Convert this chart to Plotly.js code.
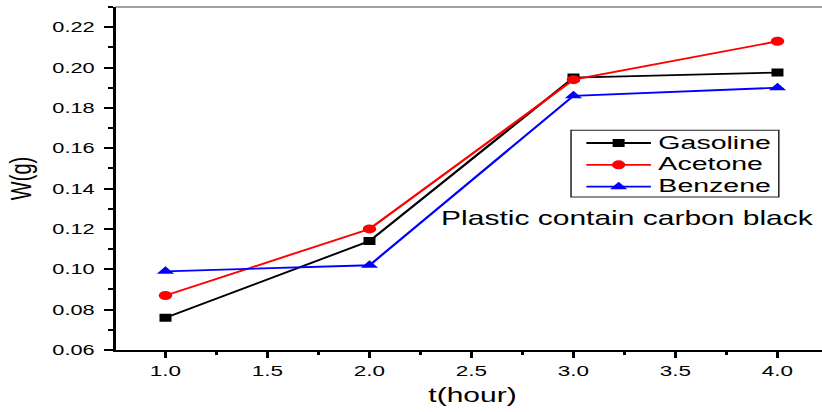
<!DOCTYPE html>
<html>
<head>
<meta charset="utf-8">
<script src="https://cdn.plot.ly/plotly-3.0.1.min.js"></script>
<style>
html,body{margin:0;padding:0;overflow:hidden;background:#fff;}
#wrap{width:822px;height:412px;overflow:hidden;position:relative;}
#chart{width:553px;height:412px;transform:scaleX(1.5);transform-origin:0 0;}
#chart .legendtext{font-size:19px !important;}
#chart .legend .scrollbox{clip-path:none !important;}
#chart .legend g{clip-path:none !important;}
</style>
</head>
<body>
<div id="wrap"><div id="chart"></div></div>
<script>
var hours = [1, 2, 3, 4];
var gasoline = [0.076, 0.114, 0.195, 0.1975];
var acetone = [0.087, 0.120, 0.194, 0.213];
var benzene = [0.099, 0.102, 0.186, 0.190];
var seriesNames = ['Gasoline', 'Acetone', 'Benzene'];
var xTicks = [1.0, 1.5, 2.0, 2.5, 3.0, 3.5, 4.0];
var xTickLabels = ['1.0', '1.5', '2.0', '2.5', '3.0', '3.5', '4.0'];
var yTicks = [0.06, 0.08, 0.10, 0.12, 0.14, 0.16, 0.18, 0.20, 0.22];
var yTickLabels = ['0.06', '0.08', '0.10', '0.12', '0.14', '0.16', '0.18', '0.20', '0.22'];
var noteText = 'Plastic contain carbon black';

var FONT = 'Liberation Sans, Arial, sans-serif';
var traces = [
  {x: hours, y: gasoline, name: seriesNames[0], mode: 'lines+markers',
   line: {color: '#000000', width: 1.8}, marker: {symbol: 'square', size: 8, color: '#000000'}},
  {x: hours, y: acetone, name: seriesNames[1], mode: 'lines+markers',
   line: {color: '#ff0000', width: 1.8}, marker: {symbol: 'circle', size: 9, color: '#ff0000'}},
  {x: hours, y: benzene, name: seriesNames[2], mode: 'lines+markers',
   line: {color: '#0000ff', width: 1.8}, marker: {symbol: 'triangle-up', size: 10, color: '#0000ff'}}
];
var layout = {
  width: 553, height: 412,
  margin: {l: 77, r: 0, t: 7, b: 62},
  paper_bgcolor: '#ffffff', plot_bgcolor: '#ffffff',
  font: {family: FONT, color: '#000000', size: 15},
  showlegend: true,
  legend: {x: 0.6490, y: 0.650, xanchor: 'left', yanchor: 'top',
    borderwidth: 0, bgcolor: 'rgba(0,0,0,0)', itemwidth: 43,
    font: {family: FONT, size: 14.5, color: '#000000'}, tracegroupgap: 0},
  xaxis: {
    range: [0.755, 4.255], tickmode: 'array', tickvals: xTicks, ticktext: xTickLabels,
    showgrid: false, zeroline: false, showline: true, linecolor: '#000000', linewidth: 2,
    ticks: 'outside', ticklen: 6, tickwidth: 2, tickcolor: '#000000',
    minor: {ticks: 'outside', ticklen: 3, tickwidth: 2, tickcolor: '#000000', dtick: 0.25, showgrid: false},
    tickfont: {family: FONT, size: 15, color: '#000000'},
    title: {text: 't(hour)', font: {family: FONT, size: 20, color: '#000000'}, standoff: 10}
  },
  yaxis: {
    range: [0.06, 0.23], tickmode: 'array', tickvals: yTicks, ticktext: yTickLabels,
    showgrid: false, zeroline: false, showline: true, linecolor: '#000000', linewidth: 2,
    ticks: 'outside', ticklen: 6, tickwidth: 2, tickcolor: '#000000',
    minor: {ticks: 'outside', ticklen: 3, tickwidth: 2, tickcolor: '#000000', dtick: 0.01, showgrid: false},
    tickfont: {family: FONT, size: 14.5, color: '#000000'},
    ticklabelstandoff: 3,
    title: {text: 'W(g)', font: {family: FONT, size: 20, color: '#000000'}, standoff: 8}
  },
  shapes: [
    {type: 'line', xref: 'paper', yref: 'paper', x0: 0, x1: 1, y0: 1, y1: 1,
     line: {color: '#444444', width: 1}},
    {type: 'rect', xref: 'paper', yref: 'paper', x0: 0.638, x1: 0.929, y0: 0.446, y1: 0.641,
     line: {color: '#222222', width: 1}, fillcolor: 'rgba(0,0,0,0)', layer: 'above'}
  ],
  annotations: [{text: noteText, xref: 'paper', yref: 'paper', x: 0.452, y: 0.385,
    xanchor: 'left', yanchor: 'middle', showarrow: false,
    font: {family: FONT, size: 20, color: '#000000'}}]
};
Plotly.newPlot('chart', traces, layout, {displayModeBar: false, staticPlot: true});
</script>
</body>
</html>
